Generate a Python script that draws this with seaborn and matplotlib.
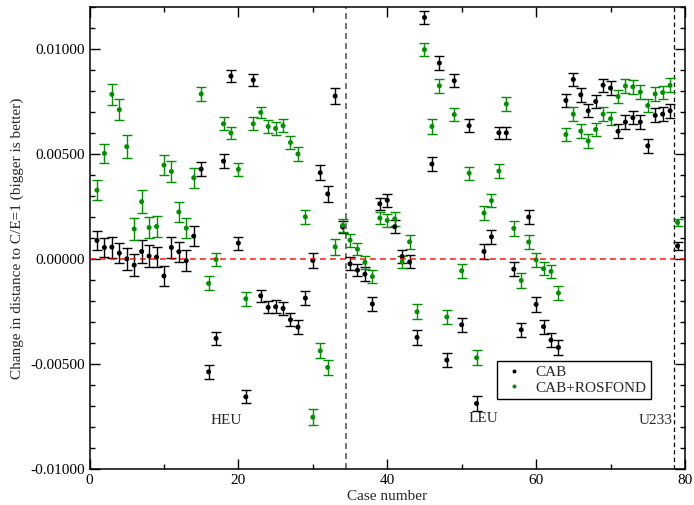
import numpy as np
import pandas as pd
import matplotlib
matplotlib.use("Agg")
import matplotlib.pyplot as plt
import seaborn as sns

# ---- data (values in units of 1e-3) ----
cases = list(range(1, 80))

cab = [0.90, 0.57, 0.59, 0.30, 0.03, -0.27, 0.38, 0.16, 0.11, -0.79,
       0.57, 0.37, -0.06, 1.11, 4.30, -5.35, -3.76, 4.68, 8.73, 0.78,
       -6.54, 8.54, -1.73, -2.28, -2.25, -2.33, -2.87, -3.22, -1.84, -0.05,
       4.13, 3.12, 7.78, 1.55, -0.21, -0.51, -0.70, -2.12, 2.65, 2.82,
       1.56, 0.14, -0.12, -3.71, 11.52, 4.54, 9.35, -4.79, 8.51, -3.11,
       6.37, -6.86, 0.38, 1.08, 6.03, 6.03, -0.46, -3.35, 2.02, -2.14,
       -3.20, -3.84, -4.19, 7.57, 8.57, 7.84, 7.08, 7.52, 8.30, 8.16,
       6.10, 6.54, 6.75, 6.54, 5.41, 6.86, 6.92, 7.08, 0.64]

cab_err = [0.46, 0.46, 0.50, 0.48, 0.51, 0.51, 0.54, 0.51, 0.49, 0.48,
           0.50, 0.48, 0.49, 0.48, 0.32, 0.32, 0.32, 0.32, 0.29, 0.31,
           0.31, 0.30, 0.29, 0.29, 0.30, 0.31, 0.32, 0.33, 0.32, 0.36,
           0.37, 0.37, 0.37, 0.30, 0.31, 0.30, 0.34, 0.31, 0.29, 0.30,
           0.31, 0.31, 0.31, 0.36, 0.31, 0.35, 0.34, 0.34, 0.32, 0.33,
           0.32, 0.34, 0.36, 0.33, 0.30, 0.30, 0.33, 0.33, 0.33, 0.34,
           0.33, 0.32, 0.34, 0.31, 0.32, 0.33, 0.32, 0.30, 0.31, 0.32,
           0.33, 0.33, 0.32, 0.33, 0.33, 0.33, 0.32, 0.34, 0.18]

ros = [3.30, 5.05, 7.86, 7.13, 5.37, 1.45, 2.75, 1.52, 1.57, 4.49,
       4.19, 2.26, 1.49, 3.89, 7.88, -1.14, 0.00, 6.46, 6.02, 4.29,
       -1.87, 6.46, 7.00, 6.33, 6.24, 6.37, 5.57, 5.02, 2.03, -7.51,
       -4.35, -5.14, 0.60, 1.62, 0.92, 0.49, -0.14, -0.81, 1.97, 1.86,
       1.93, -0.12, 0.84, -2.49, 9.99, 6.33, 8.27, -2.74, 6.90, -0.54,
       4.11, -4.68, 2.21, 2.80, 4.21, 7.40, 1.48, -1.00, 0.83, -0.02,
       -0.44, -0.57, -1.60, 5.95, 6.92, 6.11, 5.64, 6.19, 6.92, 6.70,
       7.76, 8.26, 8.22, 7.97, 7.33, 7.88, 7.95, 8.29, 1.76]

ros_err = [0.48, 0.45, 0.49, 0.49, 0.54, 0.52, 0.54, 0.52, 0.51, 0.48,
           0.50, 0.48, 0.49, 0.48, 0.32, 0.33, 0.32, 0.31, 0.29, 0.32,
           0.33, 0.30, 0.28, 0.30, 0.30, 0.32, 0.31, 0.33, 0.33, 0.37,
           0.35, 0.37, 0.37, 0.29, 0.31, 0.29, 0.31, 0.32, 0.29, 0.30,
           0.32, 0.30, 0.32, 0.35, 0.32, 0.36, 0.34, 0.33, 0.33, 0.34,
           0.31, 0.36, 0.35, 0.32, 0.32, 0.32, 0.35, 0.36, 0.34, 0.33,
           0.32, 0.33, 0.33, 0.31, 0.32, 0.32, 0.32, 0.31, 0.32, 0.32,
           0.33, 0.32, 0.33, 0.33, 0.33, 0.33, 0.33, 0.33, 0.18]

series_names = ["CAB", "CAB+ROSFOND"]
group_labels = ["HEU", "LEU", "U233"]
group_label_x = [18.4, 52.9, 76.0]
group_label_y = [-7.68, -7.58, -7.68]
group_bounds = [34.5, 78.5]

scale = 1e-3
colors = {"CAB": "black", "CAB+ROSFOND": "#009000"}
FS = 11

df = pd.DataFrame({
    "case": cases * 2,
    "value": [v * scale for v in cab] + [v * scale for v in ros],
    "err": [e * scale for e in cab_err] + [e * scale for e in ros_err],
    "series": [series_names[0]] * len(cases) + [series_names[1]] * len(cases),
})

sns.set_style("ticks")
plt.rcParams["font.family"] = ["Liberation Serif", "DejaVu Serif"]

fig = plt.figure(figsize=(6.94, 5.05), dpi=100)
ax = fig.add_axes([0.129, 0.0703, 0.858, 0.915])

for i, name in enumerate(series_names):
    sub = df[df["series"] == name]
    ax.errorbar(sub["case"], sub["value"], yerr=sub["err"], fmt="none",
                ecolor=colors[name], elinewidth=1.0, capsize=3.3,
                capthick=1.0, zorder=2 + i)

sns.scatterplot(data=df, x="case", y="value", hue="series",
                palette=colors, s=13, linewidth=0, ax=ax, zorder=4)

ax.axhline(0, color="red", ls=(0, (3.5, 2.5)), lw=1.2, alpha=0.85, zorder=6)
ax.axvline(group_bounds[0], color="0.35", ls=(0, (3.5, 2.5)), lw=1.2, zorder=1)
ax.axvline(group_bounds[1], color="black", ls=(0, (3.5, 2.5)), lw=0.9, zorder=1)

for lab, lx, ly in zip(group_labels, group_label_x, group_label_y):
    ax.text(lx, ly * scale, lab, ha="center", va="center", fontsize=FS)

ax.set_xlim(0, 80)
ax.set_ylim(-0.010, 0.012)
ax.set_xticks([0, 20, 40, 60, 80])
ax.set_xticks([10, 30, 50, 70], minor=True)
ax.set_yticks([-0.01, -0.005, 0.0, 0.005, 0.01])
ax.set_yticks(np.arange(-0.009, 0.0121, 0.001), minor=True)
ax.set_yticklabels(["%.5f" % t for t in [-0.01, -0.005, 0.0, 0.005, 0.01]])
ax.tick_params(which="both", direction="in", top=True, right=True,
               labelsize=FS, width=1.0, colors="black")
ax.tick_params(which="major", length=7)
ax.tick_params(which="minor", length=3.5)
for sp in ax.spines.values():
    sp.set_linewidth(1.1)
    sp.set_color("black")

ax.set_xlabel("Case number", fontsize=FS, labelpad=2)
ax.set_ylabel("Change in distance to C/E=1 (bigger is better)", fontsize=FS, labelpad=4)

handles, labels = ax.get_legend_handles_labels()
leg = ax.legend(handles, labels, loc="lower left", bbox_to_anchor=(0.684, 0.152),
                borderaxespad=0, frameon=True, fancybox=False, edgecolor="black",
                framealpha=1, fontsize=FS, handletextpad=0.6, borderpad=0.3,
                labelspacing=0.1, handlelength=1.6, markerscale=0.8)
leg.get_frame().set_linewidth(1.0)

fig.savefig("out.png", dpi=100)
